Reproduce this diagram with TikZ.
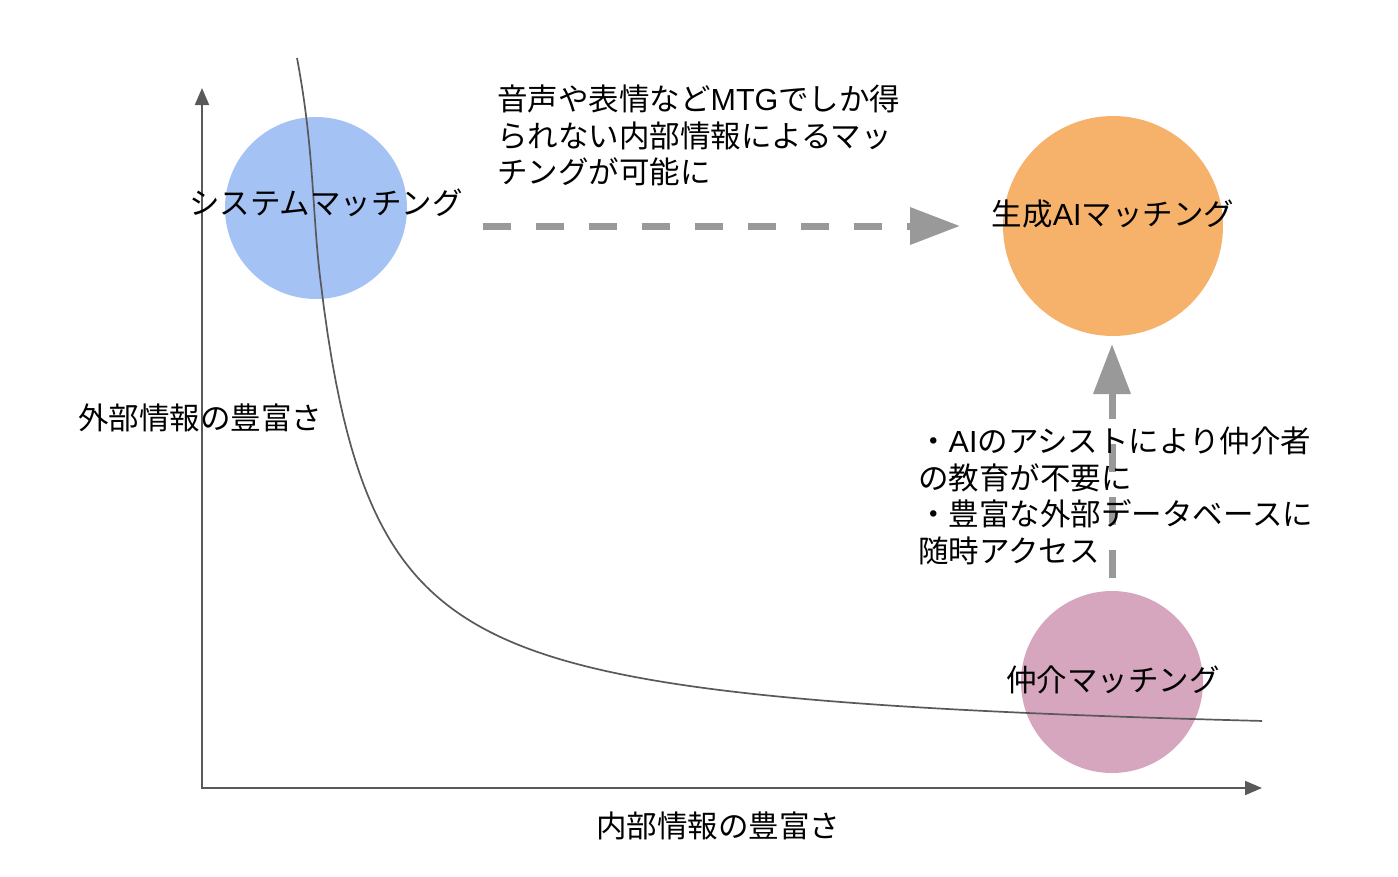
\documentclass[tikz,border=0pt]{standalone}
\usepackage{fontspec}
\setmainfont{Noto Sans CJK JP}
\newfontfamily\lat{Liberation Sans}
\usetikzlibrary{arrows.meta}
\definecolor{axisgray}{HTML}{595959}
\definecolor{arrgray}{HTML}{999999}
\definecolor{cblue}{HTML}{A4C2F4}
\definecolor{corange}{HTML}{F6B26B}
\definecolor{cpink}{HTML}{D5A6BD}
\tikzset{
  axisline/.style={draw=axisgray, line width=2pt, -{Triangle[length=17pt,width=14pt]}},
  bubble/.style={circle, inner sep=0pt},
  lbl/.style={font=\fontsize{30.5pt}{36.5pt}\selectfont, inner sep=0pt, text=black},
  dasharrow/.style={draw=arrgray, line width=7pt, dash pattern=on 28pt off 25pt,
     -{Triangle[length=50pt,width=36pt]}},
}
\begin{document}
\begin{tikzpicture}[x=1pt,y=-1pt]
\useasboundingbox (0,0) rectangle (1398,876);
% circles
\node[bubble, fill=cblue, minimum size=182pt] (sys) at (316,208) {};
\node[bubble, fill=corange, minimum size=220pt] (gen) at (1113,226) {};
\node[bubble, fill=cpink, minimum size=182pt] (med) at (1112,682) {};
% axes
\coordinate (origin) at (202,789);
\coordinate (ytip) at (202,88);
\coordinate (xstart) at (203,788);
\coordinate (xtip) at (1262,788);
\draw[axisline] (origin) -- (ytip);
\draw[axisline] (xstart) -- (xtip);
% curve
\coordinate (cstart) at (297,58);
\coordinate (cjoin) at (320,276.6);
\draw[axisgray, line width=1.7pt, line join=round]
  (cstart) .. controls (314,148) and (312,208.2) .. (cjoin)
  -- plot[domain=320:1262, samples=240] (\x, {746.9 - 258.68/((\x-265)/100)});
% dashed arrows
\coordinate (h1) at (483,226);
\coordinate (h2) at (960,226);
\draw[dasharrow] (h1) -- (h2);
\coordinate (v1) at (1112,578);
\coordinate (v2) at (1112,344);
\draw[dasharrow] (v1) -- (v2);
% labels
\node[lbl] (syslbl) at (326,203) {システムマッチング};
\node[lbl] (genlbl) at (1113,214) {生成{\lat AI}マッチング};
\node[lbl] (medlbl) at (1113,680) {仲介マッチング};
\node[lbl] (ylbl) at (200,418) {外部情報の豊富さ};
\node[lbl] (xlbl) at (718,826) {内部情報の豊富さ};
\node[lbl, anchor=north west, align=left] (top) at (497,85) {音声や表情など{\lat MTG}でしか得\\られない内部情報によるマッ\\チングが可能に};
\node[lbl, anchor=north west, align=left] (side) at (918,427) {・{\lat AI}のアシストにより仲介者\\の教育が不要に\\・豊富な外部データベースに\\随時アクセス};
\end{tikzpicture}
\end{document}
